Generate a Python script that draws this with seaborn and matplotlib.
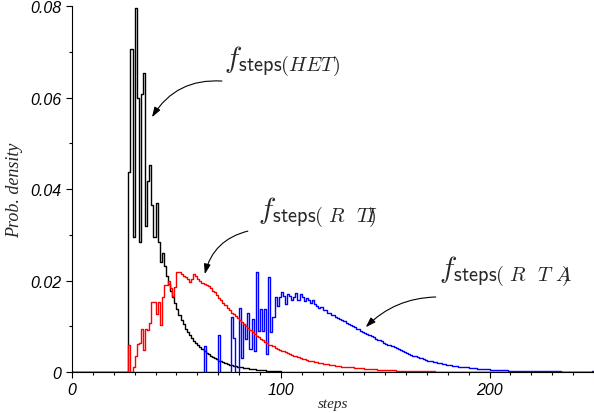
import numpy as np
import pandas as pd
import seaborn as sns
import matplotlib.pyplot as plt
from matplotlib.ticker import MultipleLocator, FuncFormatter

# histogrammes (largeur de classe = 1 pas)
het_start = 27
het_vals = [
    0.0437, 0.0707, 0.0296, 0.0795, 0.0600, 0.0285, 0.0608, 0.0654, 0.0320, 0.0418,  # 27-36
    0.0453, 0.0365, 0.0295, 0.0370, 0.0284, 0.0240, 0.0260, 0.0232, 0.0210, 0.0192,  # 37-46
    0.0178, 0.0165, 0.0150, 0.0138, 0.0125, 0.0114, 0.0104, 0.0095, 0.0087, 0.0080,  # 47-56
    0.0074, 0.0068, 0.0063, 0.0058, 0.0054, 0.0050, 0.0046, 0.0042, 0.0039, 0.0036,  # 57-66
    0.0033, 0.0030, 0.0028, 0.0025, 0.0023, 0.0021, 0.0019, 0.0018, 0.0016, 0.0015,  # 67-76
    0.0014, 0.0013, 0.0012, 0.0011, 0.0010, 0.0009, 0.0008, 0.0008, 0.0007, 0.0006,  # 77-86
    0.0006, 0.0005, 0.0005, 0.0004, 0.0004, 0.0004, 0.0003, 0.0003, 0.0003, 0.0002,  # 87-96
    0.0002, 0.0002, 0.0002, 0.0001, 0.0001, 0.0001, 0.0001, 0.0001, 0.0001, 0.0001,  # 97-106
]

rti_start = 27
rti_vals = [
    0.0060, 0.0000, 0.0010, 0.0036, 0.0061, 0.0063, 0.0094, 0.0049, 0.0094, 0.0092,  # 27-36
    0.0107, 0.0154, 0.0152, 0.0127, 0.0154, 0.0103, 0.0163, 0.0190, 0.0190, 0.0200,  # 37-46
    0.0183, 0.0167, 0.0186, 0.0219, 0.0219, 0.0214, 0.0210, 0.0208, 0.0203, 0.0196,  # 47-56
    0.0203, 0.0215, 0.0210, 0.0203, 0.0200, 0.0195, 0.0192, 0.0190, 0.0188, 0.0183,  # 57-66
    0.0178, 0.0174, 0.0168, 0.0162, 0.0157, 0.0151, 0.0146, 0.0140, 0.0135, 0.0130,  # 67-76
    0.0126, 0.0122, 0.0118, 0.0114, 0.0109, 0.0105, 0.0100, 0.0096, 0.0091, 0.0087,  # 77-86
    0.0083, 0.0079, 0.0076, 0.0072, 0.0069, 0.0066, 0.0063, 0.0060, 0.0058, 0.0056,  # 87-96
    0.0053, 0.0051, 0.0049, 0.0047, 0.0045, 0.0043, 0.0041, 0.0039, 0.0037, 0.0035,  # 97-106
    0.0034, 0.0032, 0.0031, 0.0029, 0.0028, 0.0027, 0.0025, 0.0024, 0.0023, 0.0022,  # 107-116
    0.0021, 0.0020, 0.0019, 0.0018, 0.0017, 0.0017, 0.0016, 0.0015, 0.0015, 0.0014,  # 117-126
    0.0013, 0.0013, 0.0012, 0.0012, 0.0011, 0.0011, 0.0010, 0.0010, 0.0009, 0.0009,  # 127-136
    0.0009, 0.0008, 0.0008, 0.0007, 0.0007, 0.0007, 0.0006, 0.0006, 0.0006, 0.0005,  # 137-146
    0.0005, 0.0005, 0.0005, 0.0004, 0.0004, 0.0004, 0.0004, 0.0004, 0.0003, 0.0003,  # 147-156
    0.0003, 0.0003, 0.0003, 0.0003, 0.0003, 0.0002, 0.0002, 0.0002, 0.0002, 0.0002,  # 157-166
    0.0002, 0.0002, 0.0002, 0.0002, 0.0002, 0.0002, 0.0002, 0.0001, 0.0001, 0.0001,  # 167-176
    0.0001, 0.0001, 0.0001, 0.0001, 0.0001, 0.0001, 0.0001, 0.0001, 0.0001, 0.0001,  # 177-186
]

rta_start = 63
rta_vals = [
    0.0057, 0.0000, 0.0000, 0.0000, 0.0000, 0.0000, 0.0000, 0.0082, 0.0000, 0.0000,  # 63-72
    0.0000, 0.0000, 0.0000, 0.0120, 0.0074, 0.0000, 0.0000, 0.0139, 0.0030, 0.0105,  # 73-82
    0.0072, 0.0130, 0.0050, 0.0115, 0.0045, 0.0219, 0.0090, 0.0138, 0.0090, 0.0138,  # 83-92
    0.0039, 0.0207, 0.0087, 0.0120, 0.0163, 0.0145, 0.0163, 0.0174, 0.0167, 0.0148,  # 93-102
    0.0170, 0.0167, 0.0158, 0.0165, 0.0172, 0.0158, 0.0170, 0.0165, 0.0155, 0.0162,  # 103-112
    0.0158, 0.0150, 0.0158, 0.0148, 0.0145, 0.0140, 0.0142, 0.0135, 0.0136, 0.0130,  # 113-122
    0.0128, 0.0125, 0.0124, 0.0120, 0.0118, 0.0116, 0.0113, 0.0111, 0.0108, 0.0105,  # 123-132
    0.0103, 0.0100, 0.0098, 0.0095, 0.0093, 0.0090, 0.0088, 0.0085, 0.0083, 0.0080,  # 133-142
    0.0078, 0.0076, 0.0073, 0.0071, 0.0069, 0.0067, 0.0064, 0.0062, 0.0060, 0.0058,  # 143-152
    0.0056, 0.0054, 0.0052, 0.0050, 0.0048, 0.0046, 0.0044, 0.0042, 0.0040, 0.0038,  # 153-162
    0.0036, 0.0034, 0.0033, 0.0031, 0.0030, 0.0028, 0.0027, 0.0025, 0.0024, 0.0023,  # 163-172
    0.0022, 0.0021, 0.0020, 0.0019, 0.0018, 0.0017, 0.0016, 0.0015, 0.0015, 0.0014,  # 173-182
    0.0013, 0.0013, 0.0012, 0.0011, 0.0011, 0.0010, 0.0010, 0.0009, 0.0009, 0.0008,  # 183-192
    0.0008, 0.0007, 0.0007, 0.0007, 0.0006, 0.0006, 0.0006, 0.0005, 0.0005, 0.0005,  # 193-202
    0.0005, 0.0004, 0.0004, 0.0004, 0.0004, 0.0004, 0.0003, 0.0003, 0.0003, 0.0003,  # 203-212
    0.0003, 0.0003, 0.0003, 0.0003, 0.0002, 0.0002, 0.0002, 0.0002, 0.0002, 0.0002,  # 213-222
    0.0002, 0.0002, 0.0002, 0.0002, 0.0002, 0.0002, 0.0002, 0.0002, 0.0002, 0.0002,  # 223-232
    0.0002, 0.0001, 0.0001, 0.0001, 0.0001, 0.0001, 0.0001, 0.0001, 0.0001, 0.0001,  # 233-242
    0.0001, 0.0001, 0.0001, 0.0001, 0.0001, 0.0001, 0.0001, 0.0001,                  # 243-250
]

x_max = 250
y_max = 0.08

sns.set_style("ticks")
plt.rcParams["mathtext.fontset"] = "cm"

fig = plt.figure(figsize=(5.94, 4.14), dpi=100)
ax = fig.add_axes([0.1212, 0.099, 0.8788, 0.884])


def trace(start, vals, couleur):
    df = pd.DataFrame({"steps": np.arange(start, start + len(vals)), "dens": vals})
    sns.histplot(data=df, x="steps", weights="dens", binwidth=1, binrange=(0, x_max),
                 element="step", fill=False, color=couleur, linewidth=1.0, ax=ax)


trace(het_start, het_vals, "black")
trace(rta_start, rta_vals, "#0000ff")
trace(rti_start, rti_vals, "#ff0000")

ax.set_xlim(0, x_max)
ax.set_ylim(0, y_max)
sns.despine(ax=ax)

# graduations
ax.xaxis.set_major_locator(MultipleLocator(100))
ax.xaxis.set_minor_locator(MultipleLocator(10))
ax.yaxis.set_major_locator(MultipleLocator(0.02))
ax.yaxis.set_minor_locator(MultipleLocator(0.01))
ax.yaxis.set_major_formatter(FuncFormatter(lambda v, p: "0" if v == 0 else f"{v:.2f}"))
ax.xaxis.set_major_formatter(FuncFormatter(lambda v, p: f"{v:.0f}"))
ax.tick_params(which="major", direction="out", length=4, width=0.8, colors="black",
               labelsize=11.5)
ax.tick_params(which="minor", direction="out", length=2, width=0.8, colors="black")
for lab in ax.get_xticklabels() + ax.get_yticklabels():
    lab.set_fontfamily("Liberation Sans")
    lab.set_fontstyle("italic")
for s in ax.spines.values():
    s.set_linewidth(0.8)
    s.set_color("black")

ax.set_xlabel("steps", family="Liberation Serif", style="italic", fontsize=11, labelpad=0)
ax.set_ylabel("Prob. density", family="Liberation Serif", style="italic", fontsize=13,
              labelpad=5)

# annotations
fleche = dict(arrowstyle="-|>,head_length=0.6,head_width=0.2", color="black", lw=0.8,
              shrinkA=0, shrinkB=0)

ax.text(72.7, 0.0678, r"$f_{\mathsf{steps}(HET)}$", fontsize=21, ha="left", va="center")
ax.annotate("", xy=(38.3, 0.0557), xytext=(71.8, 0.0636),
            arrowprops=dict(fleche, connectionstyle="arc3,rad=0.3"))

ax.text(89, 0.035, r"$f_{\mathsf{steps}(\ R\ \ T\!I\!\!)}$", fontsize=21, ha="left", va="center")
ax.annotate("", xy=(63.6, 0.0214), xytext=(84.2, 0.0308),
            arrowprops=dict(fleche, connectionstyle="arc3,rad=0.3"))

ax.text(176, 0.0221, r"$f_{\mathsf{steps}(\ R\ \ T\ A\!\!\!)}$", fontsize=21, ha="left", va="center")
ax.annotate("", xy=(140.7, 0.0098), xytext=(174.2, 0.0164),
            arrowprops=dict(fleche, connectionstyle="arc3,rad=0.2"))

fig.savefig("out.png", dpi=100)
